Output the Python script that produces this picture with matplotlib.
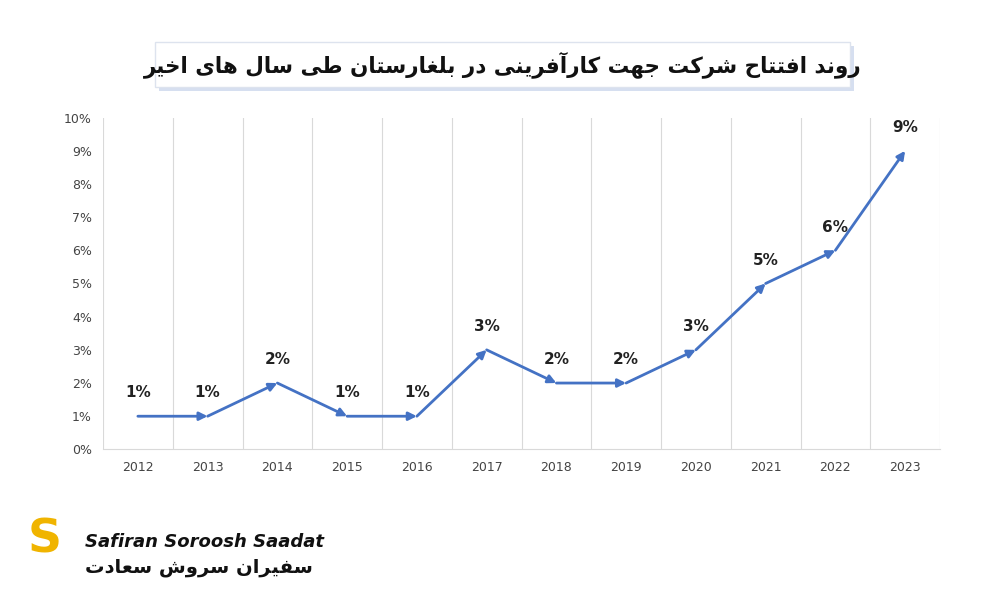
import matplotlib
matplotlib.use("Agg")
import matplotlib.pyplot as plt
from matplotlib.patches import FancyBboxPatch

years = ["2012","2013","2014","2015","2016","2017","2018","2019","2020","2021","2022","2023"]
values = [1,1,2,1,1,3,2,2,3,5,6,9]
labels = ["1%","1%","2%","1%","1%","3%","2%","2%","3%","5%","6%","9%"]
title = "روند افتتاح شرکت جهت کارآفرینی در بلغارستان طی سال های اخیر"
logo_fa = "سفیران سروش سعادت"

FORMS = {
 "\u0631":(0xFEAD,0xFEAE),"\u0648":(0xFEED,0xFEEE),"\u062F":(0xFEA9,0xFEAA),
 "\u0627":(0xFE8D,0xFE8E),"\u0622":(0xFE81,0xFE82),
 "\u0646":(0xFEE5,0xFEE6,0xFEE7,0xFEE8),"\u0641":(0xFED1,0xFED2,0xFED3,0xFED4),
 "\u062A":(0xFE95,0xFE96,0xFE97,0xFE98),"\u062D":(0xFEA1,0xFEA2,0xFEA3,0xFEA4),
 "\u0634":(0xFEB5,0xFEB6,0xFEB7,0xFEB8),"\u06A9":(0xFB8E,0xFB8F,0xFB90,0xFB91),
 "\u062C":(0xFE9D,0xFE9E,0xFE9F,0xFEA0),"\u0647":(0xFEE9,0xFEEA,0xFEEB,0xFEEC),
 "\u06CC":(0xFBFC,0xFBFD,0xFBFE,0xFBFF),"\u0628":(0xFE8F,0xFE90,0xFE91,0xFE92),
 "\u0644":(0xFEDD,0xFEDE,0xFEDF,0xFEE0),"\u063A":(0xFECD,0xFECE,0xFECF,0xFED0),
 "\u0633":(0xFEB1,0xFEB2,0xFEB3,0xFEB4),"\u0637":(0xFEC1,0xFEC2,0xFEC3,0xFEC4),
 "\u062E":(0xFEA5,0xFEA6,0xFEA7,0xFEA8),"\u0645":(0xFEE1,0xFEE2,0xFEE3,0xFEE4),
 "\u0639":(0xFEC9,0xFECA,0xFECB,0xFECC),
}
def shape(s):
    out = []
    for i, c in enumerate(s):
        if c not in FORMS:
            out.append(c); continue
        prev = s[i-1] if i > 0 else ""
        nxt = s[i+1] if i+1 < len(s) else ""
        jp = prev in FORMS and len(FORMS[prev]) == 4
        jn = nxt in FORMS and len(FORMS[c]) == 4
        f = FORMS[c]
        if jp and jn: k = 3
        elif jp: k = 1
        elif jn: k = 2
        else: k = 0
        out.append(chr(f[k]))
    return "".join(out)[::-1]

fig = plt.figure(figsize=(10, 6), dpi=100)
ax = fig.add_axes([0.103, 0.251, 0.837, 0.553])
x = list(range(len(years)))
col = "#4472C4"
for i in range(len(x) - 1):
    ax.annotate("", xy=(x[i+1], values[i+1]), xytext=(x[i], values[i]),
                arrowprops=dict(arrowstyle="-|>", color=col, lw=2, mutation_scale=12,
                                shrinkA=0, shrinkB=0))
for xi, v, l in zip(x, values, labels):
    ax.text(xi, v + 0.7, l, ha="center", va="center", fontsize=11, fontweight="bold", color="#222222")
ax.set_xlim(-0.5, len(years) - 0.5)
ax.set_ylim(0, 10)
ax.set_yticks(range(0, 11))
ax.set_yticklabels([f"{i}%" for i in range(11)], fontsize=9, color="#444444")
ax.set_xticks(x)
ax.set_xticklabels(years, fontsize=9, color="#444444")
for b in range(len(years) + 1):
    ax.axvline(b - 0.5, color="#d9d9d9", lw=0.8, zorder=0)
for s in ["top", "right", "left"]:
    ax.spines[s].set_visible(False)
ax.spines["bottom"].set_color("#d9d9d9")
ax.tick_params(length=0, pad=8)

box = FancyBboxPatch((0.155, 0.855), 0.695, 0.075, boxstyle="square,pad=0",
                     transform=fig.transFigure, facecolor="white", edgecolor="#dde3ee", lw=1)
shadow = FancyBboxPatch((0.159, 0.848), 0.695, 0.075, boxstyle="square,pad=0",
                        transform=fig.transFigure, facecolor="#d6dff0", edgecolor="none")
fig.patches.extend([shadow, box])
fig.text(0.503, 0.893, shape(title), ha="center", va="center", fontsize=15.5,
         fontweight="bold", family="DejaVu Sans", color="#111111")

fig.text(0.085, 0.088, "Safiran Soroosh Saadat", fontsize=13, fontweight="bold",
         style="italic", color="#111111")
fig.text(0.085, 0.045, shape(logo_fa), fontsize=14, fontweight="bold", color="#111111")
fig.text(0.045, 0.10, "S", fontsize=34, fontweight="bold", color="#f0b400", ha="center", va="center")

fig.savefig("out.png", dpi=100, facecolor="white")
